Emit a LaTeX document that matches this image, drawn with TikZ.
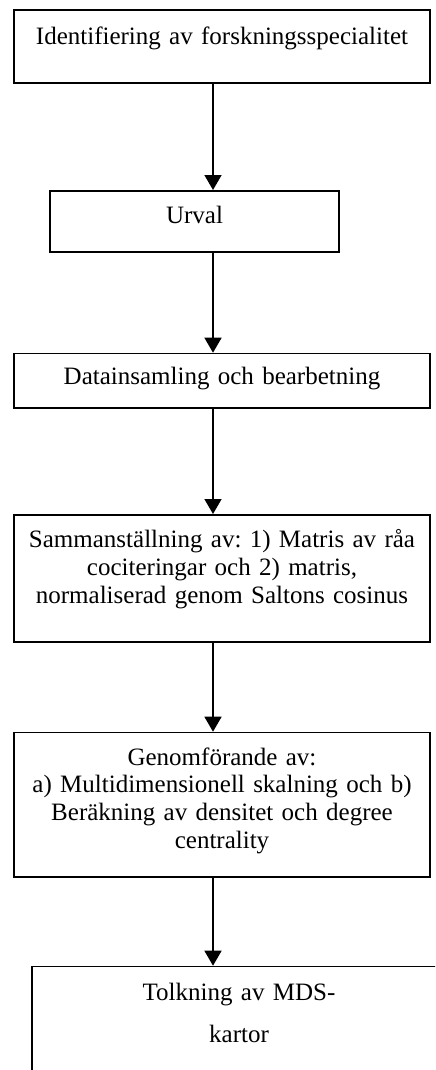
\documentclass[tikz,border=0pt]{standalone}
\usepackage{fontspec}
\setmainfont{Liberation Serif}
\usetikzlibrary{arrows.meta}
\frenchspacing
\tikzset{stage/.style={draw, rectangle, inner xsep=4pt, inner ysep=0pt, align=center, anchor=north, font=\fontsize{12.5}{13.9}\selectfont}}

\begin{document}
\begin{tikzpicture}[x=0.5pt, y=0.5pt, line width=0.75pt, >={Triangle[length=7.5pt,width=8.5pt]}]
		\useasboundingbox (0,0) rectangle (435,-1070);
		\clip (0,0) rectangle (435,-1070);
		\coordinate (spine) at (213,0);

		\node[stage, text width=200pt, text height=17pt, text depth=19.5pt] (ident) at (222,-9.3) {Identifiering av forskningsspecialitet};
		\node[stage, text width=136.5pt, text height=16.5pt, text depth=14pt] (urval) at (194.5,-190) {Urval};
		\node[stage, text width=200pt, text height=15.3pt, text depth=11.85pt] (data) at (222,-352.7) {Datainsamling och bearbetning};
		\node[stage, text width=200pt, text height=16.35pt, text depth=47.15pt] (matris) at (222,-514) {Sammanställning av: 1) Matris av råa\\ cociteringar och 2) matris,\\ normaliserad genom Saltons cosinus};
		\node[stage, text width=200pt, text height=16.3pt, text depth=55.85pt] (mds) at (222,-731.7) {Genomförande av:\\ a) Multidimensionell skalning och b)\\ Beräkning av densitet och degree\\ centrality};
		\node[stage, text width=198.85pt, text height=17.15pt, text depth=50pt, font=\fontsize{12.5}{20.85}\selectfont] (tolk) at (239,-965.7) {Tolkning av MDS-\\ kartor};

		\draw[->] (ident.south -| spine) -- (urval.north -| spine);
		\draw[->] (urval.south -| spine) -- (data.north -| spine);
		\draw[->] (data.south -| spine) -- (matris.north -| spine);
		\draw[->] (matris.south -| spine) -- (mds.north -| spine);
		\draw[->] (mds.south -| spine) -- (tolk.north -| spine);
\end{tikzpicture}
\end{document}
